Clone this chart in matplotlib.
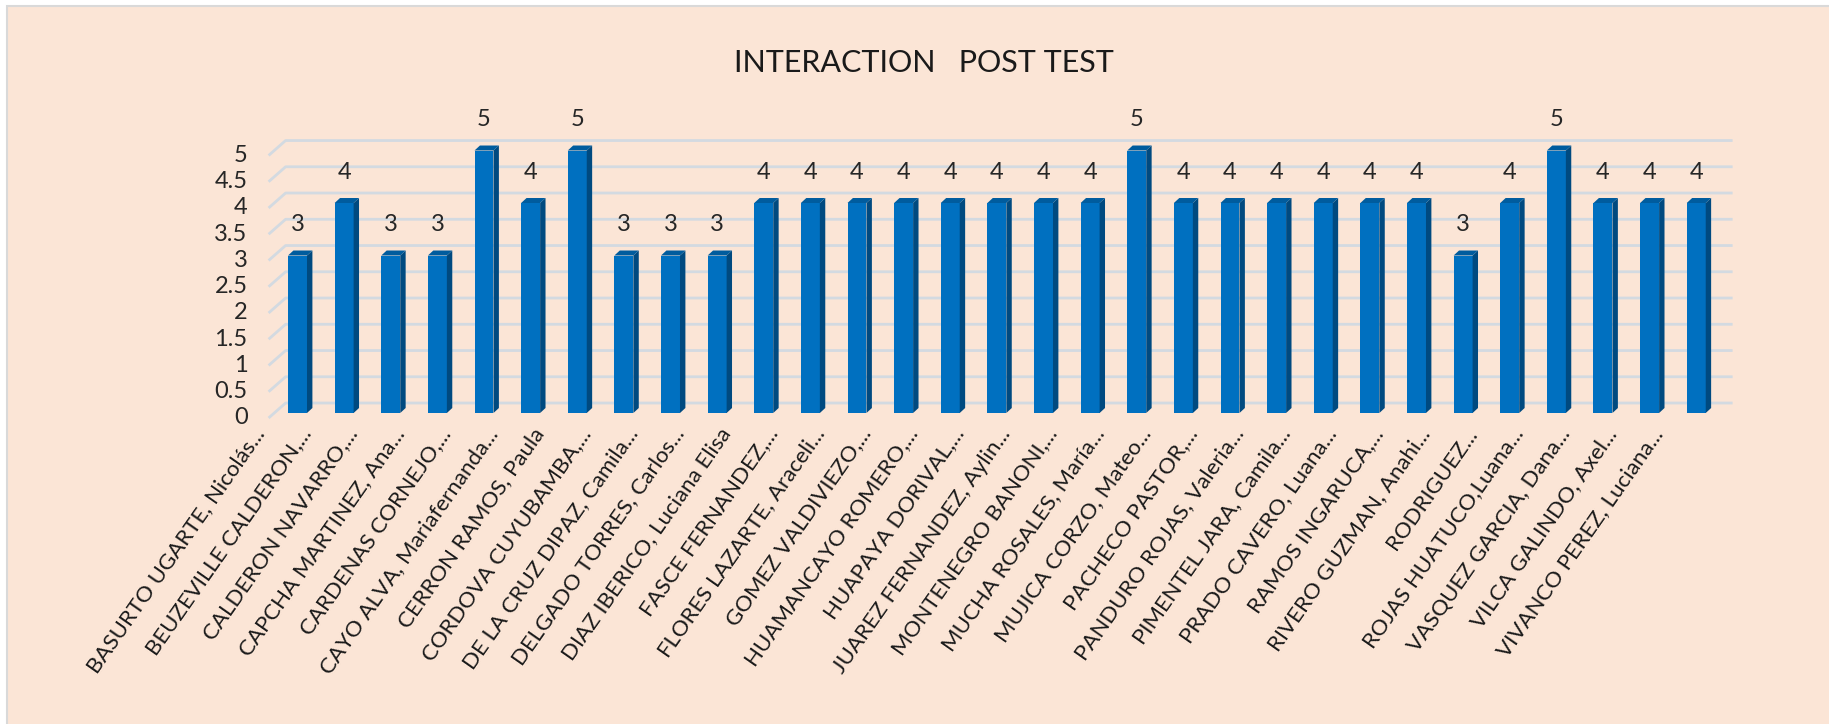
import numpy as np
import matplotlib
matplotlib.use('Agg')
import matplotlib.pyplot as plt
from matplotlib.patches import Polygon, Rectangle
from matplotlib.transforms import offset_copy

# datos
nombres = ['BASURTO UGARTE, Nicolás...', 'BEUZEVILLE CALDERON,...', 'CALDERON NAVARRO,...',
	'CAPCHA MARTINEZ, Ana...', 'CARDENAS CORNEJO,...', 'CAYO ALVA, Mariafernanda...',
	'CERRON RAMOS, Paula', 'CORDOVA CUYUBAMBA,...', 'DE LA CRUZ DIPAZ, Camila...',
	'DELGADO TORRES, Carlos...', 'DIAZ IBERICO, Luciana Elisa', 'FASCE FERNANDEZ,...',
	'FLORES LAZARTE, Araceli...', 'GOMEZ VALDIVIEZO,...', 'HUAMANCAYO ROMERO,...',
	'HUAPAYA DORIVAL,...', 'JUAREZ FERNANDEZ, Aylin...', 'MONTENEGRO BANONI,...',
	'MUCHA ROSALES, María...', 'MUJICA CORZO, Mateo...', 'PACHECO PASTOR,...',
	'PANDURO ROJAS, Valeria...', 'PIMENTEL JARA, Camila...', 'PRADO CAVERO, Luana...',
	'RAMOS INGARUCA,...', 'RIVERO GUZMAN, Anahi...', 'RODRIGUEZ...',
	'ROJAS HUATUCO,Luana...', 'VASQUEZ GARCIA, Dana...', 'VILCA GALINDO, Axel...',
	'VIVANCO PEREZ, Luciana...']
notas = [3, 4, 3, 3, 5, 4, 5, 3, 3, 3, 4, 4, 4, 4, 4, 4, 4, 4, 5, 4, 4, 4, 4, 4, 4, 3, 4, 5, 4, 4, 4]
ticks_y = [0, 0.5, 1, 1.5, 2, 2.5, 3, 3.5, 4, 4.5, 5]
etiquetas_y = ['0', '0.5', '1', '1.5', '2', '2.5', '3', '3.5', '4', '4.5', '5']
titulo = 'INTERACTION   POST TEST'

fondo = '#FBE5D6'
azul = '#0070C0'
azul_lado = '#004A80'
azul_arriba = '#005C9E'
rejilla = '#D3DAE1'

W, H = 1829, 724
fig = plt.figure(figsize=(W/100, H/100), dpi=100)
fig.patch.set_facecolor('white')
# marco del grafico
fig.patches.append(Rectangle((7/W, -0.1), 1, 1.1 - 6/H, transform=fig.transFigure,
	facecolor=fondo, edgecolor='#D9D9D9', linewidth=1.5, zorder=-5))

ax = fig.add_axes([268.6/W, 1 - 423.5/H, 1464/W, 288.75/H])
ax.set_xlim(-0.62, 30.78)
ax.set_ylim(-0.2, 5.3)
ax.axis('off')

x = np.arange(len(notas))
ancho = 0.407
ddx, ddy = 0.116, 0.095      # profundidad de cada barra
gdx, gdy = 0.365, 0.285      # profundidad del piso/pared
frente = -0.095

# rejilla (pared del fondo)
for v in ticks_y:
	ax.plot([-0.62, -0.62 + gdx, 30.78], [v + frente, v + frente + gdy, v + frente + gdy],
		color=rejilla, lw=2, zorder=1, clip_on=False, solid_capstyle='butt')

# barras "3D"
ax.bar(x, notas, width=ancho, color=azul, zorder=3)
for xi, v in zip(x, notas):
	der = xi + ancho/2
	izq = xi - ancho/2
	ax.add_patch(Polygon([(der, 0), (der + ddx, ddy), (der + ddx, v + ddy), (der, v)],
		closed=True, facecolor=azul_lado, edgecolor='none', zorder=3))
	ax.add_patch(Polygon([(izq, v), (der, v), (der + ddx, v + ddy), (izq + ddx, v + ddy)],
		closed=True, facecolor=azul_arriba, edgecolor='none', zorder=3))
	ax.text(xi, v + 0.59, str(v), ha='center', va='center', fontsize=17,
		family='Lato', color='#262626', zorder=4)

# eje y
tr_y = offset_copy(ax.transData, fig=fig, x=-21, y=0, units='dots')
for v, lab in zip(ticks_y, etiquetas_y):
	ax.text(-0.62, v + frente, lab, transform=tr_y, ha='right', va='center',
		fontsize=17, family='Lato', color='#262626')

# eje x
tr_x = offset_copy(ax.transData, fig=fig, x=-37, y=-12, units='dots')
for xi, nom in zip(x, nombres):
	ax.text(xi, frente, nom, transform=tr_x, rotation=55, rotation_mode='anchor',
		ha='right', va='center', fontsize=16, family='Lato', color='#1a1a1a')

fig.text(924/W, 1 - 63/H, titulo, ha='center', va='center', fontsize=22,
	family='Lato', color='#1a1a1a')

fig.savefig('out.png', dpi=100, facecolor=fig.get_facecolor())
